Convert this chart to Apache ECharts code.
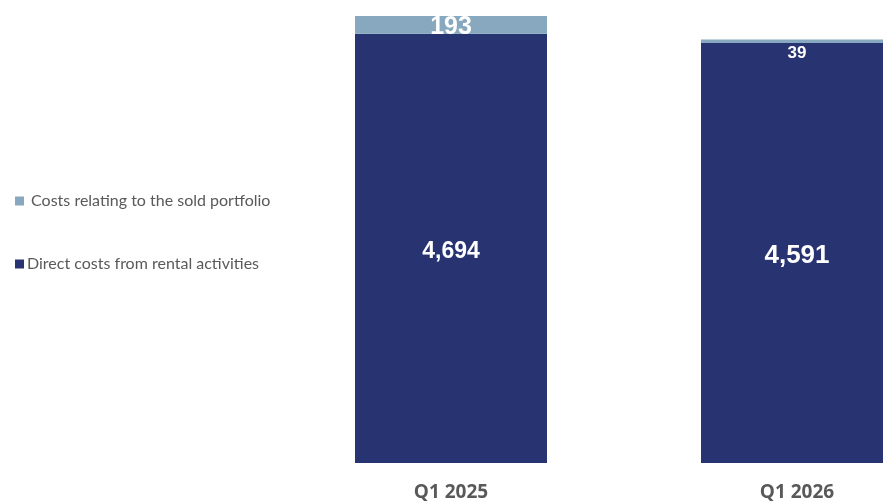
<!DOCTYPE html>
<html>
<head>
<meta charset="utf-8">
<script src="https://cdn.jsdelivr.net/npm/echarts@6/dist/echarts.min.js"></script>
<style>html,body{margin:0;padding:0;background:#fff;}#c{width:883px;height:502px;}</style>
</head>
<body>
<div id="c"></div>
<script>
var categories = ['Q1 2025', 'Q1 2026'];
var directCosts = [4694, 4591];
var soldPortfolioCosts = [193, 39];
var nameDirect = 'Direct costs from rental activities';
var nameSold = ' Costs relating to the sold portfolio';

var chart = echarts.init(document.getElementById('c'));
function fmt(v){ return v.toLocaleString('en-US'); }
chart.setOption({
  animation: false,
  legend: {
    orient: 'vertical',
    left: 10,
    top: 188,
    itemGap: 47,
    icon: 'rect',
    itemWidth: 9,
    itemHeight: 9,
    selectedMode: false,
    data: [nameSold, nameDirect],
    textStyle: { color: '#595959', fontSize: 16, fontFamily: 'Lato', padding: [0,0,0,-2] }
  },
  grid: { left: 451, right: 86, top: 5.66, bottom: 39 },
  xAxis: {
    type: 'category',
    data: categories,
    boundaryGap: false,
    axisLine: { show: false },
    axisTick: { show: false },
    axisLabel: { color: '#595959', fontSize: 19, fontWeight: 'bold', fontFamily: 'Open Sans', margin: 20 }
  },
  yAxis: { type: 'value', min: 0, max: 5000, show: false, splitLine: { show: false } },
  series: [
    {
      name: nameDirect,
      type: 'bar',
      stack: 'a',
      barWidth: 192,
      itemStyle: { color: '#283371' },
      data: directCosts.map(function(v, i){
        return { value: v, label: { fontSize: i === 0 ? 23 : 26 } };
      }),
      label: { show: true, position: 'inside', offset: [0, 3], color: '#fff', fontWeight: 'bold', fontFamily: 'Arial, Liberation Sans', formatter: function(p){ return fmt(p.value); } }
    },
    {
      name: nameSold,
      type: 'bar',
      stack: 'a',
      barWidth: 192,
      itemStyle: { color: '#87A8BE' },
      data: soldPortfolioCosts.map(function(v, i){
        return i === 0 ? { value: v, label: { position: 'inside', offset: [0, 2], fontSize: 25 } }
                       : { value: v, label: { position: 'bottom', distance: 2, fontSize: 17 } };
      }),
      label: { show: true, color: '#fff', fontWeight: 'bold', fontFamily: 'Arial, Liberation Sans', formatter: function(p){ return fmt(p.value); } }
    }
  ]
});
</script>
</body>
</html>
